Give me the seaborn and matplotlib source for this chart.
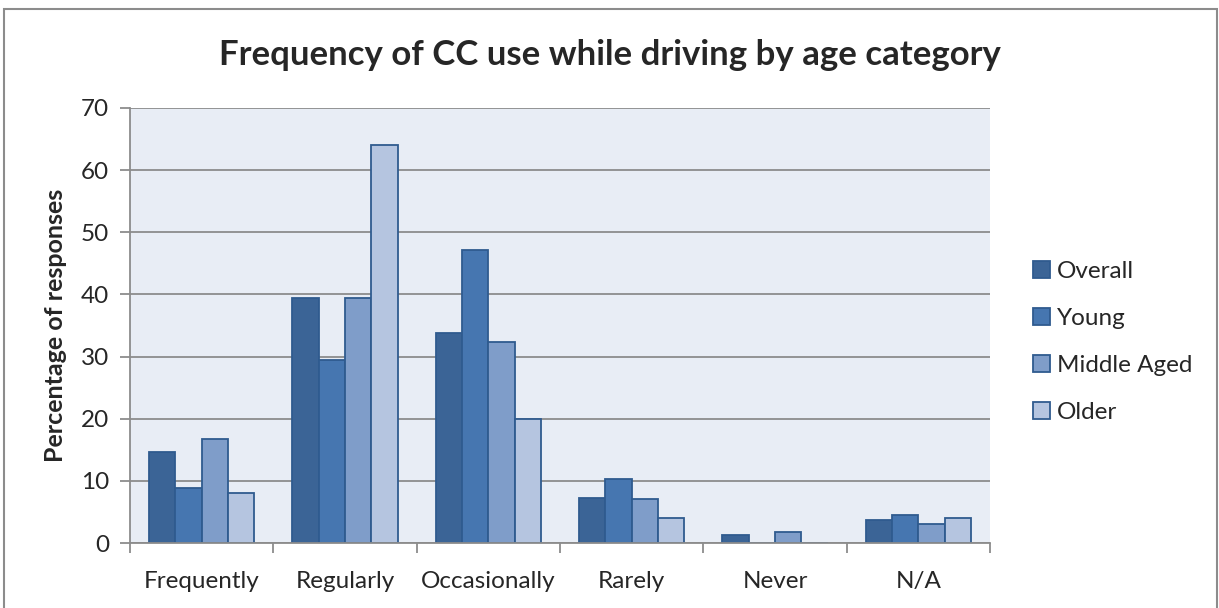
import pandas as pd
import numpy as np
import matplotlib
matplotlib.use('Agg')
import matplotlib.pyplot as plt
from matplotlib.patches import Rectangle
import seaborn as sns

# Chart data
categories = ['Frequently', 'Regularly', 'Occasionally', 'Rarely', 'Never', 'N/A']
groups = ['Overall', 'Young', 'Middle Aged', 'Older']
overall = [14.6, 39.5, 33.8, 7.3, 1.35, 3.7]
young = [8.9, 29.5, 47.1, 10.35, 0, 4.5]
middle_aged = [16.8, 39.5, 32.4, 7.1, 1.7, 3.0]
older = [8.1, 64.0, 20.0, 4.1, 0, 4.1]

colors = ['#3B6496', '#4676B0', '#7F9DC9', '#B5C5E0']

# Long-form table for seaborn
df = pd.DataFrame({
    'category': categories * 4,
    'group': [g for g in groups for _ in categories],
    'value': overall + young + middle_aged + older,
})

sns.set_style('white')
plt.rcParams['font.family'] = ['Lato', 'DejaVu Sans']

fig = plt.figure(figsize=(12.19, 6.08), dpi=100)
ax = fig.add_axes([130 / 1219, 1 - 543 / 608, 860 / 1219, 435 / 608])

sns.barplot(data=df, x='category', y='value', hue='group', order=categories,
            hue_order=groups, palette=colors, width=0.735, gap=0,
            edgecolor='#2F5B8F', linewidth=1.3, saturation=1, ax=ax)

ax.set_facecolor('#E8EDF5')
ax.set_xlim(-0.5, 5.5)
ax.set_ylim(0, 70)
ax.set_yticks(range(0, 71, 10))
ax.yaxis.grid(True, color='#8C8C8C', linewidth=1.3)
ax.set_axisbelow(True)

# x ticks between categories
ax.set_xticks(range(len(categories)))
ax.set_xticklabels(categories, fontsize=17.5)
ax.set_xticks(np.arange(-0.5, 6, 1), minor=True)
ax.tick_params(axis='x', which='major', length=0, pad=20)
ax.tick_params(axis='x', which='minor', length=7, width=1.3, color='#8C8C8C', direction='out')
ax.tick_params(axis='y', length=7, width=1.3, color='#8C8C8C', direction='out', labelsize=17.5, pad=8)
ax.tick_params(axis='y', left=True)
ax.tick_params(axis='x', which='minor', bottom=True)

for side in ['top', 'right']:
    ax.spines[side].set_visible(False)
for side in ['left', 'bottom']:
    ax.spines[side].set_color('#8C8C8C')
    ax.spines[side].set_linewidth(1.3)

ax.set_xlabel('')
ax.set_ylabel('Percentage of responses', fontsize=18, fontweight='bold', labelpad=10)
fig.text(610 / 1219, 1 - 55 / 608, 'Frequency of CC use while driving by age category',
         ha='center', va='center', fontsize=25, fontweight='bold')

leg = ax.legend(loc='center left', bbox_to_anchor=(1.024, 0.462), frameon=False,
                fontsize=17.5, labelspacing=1.08, handlelength=0.7, handleheight=0.7,
                handletextpad=0.3)

# outer chart frame
fig.patches.append(Rectangle((4 / 1219, -0.05), 1213 / 1219, 1.05 - 9 / 608,
                             transform=fig.transFigure, fill=False,
                             edgecolor='#8C8C8C', linewidth=1.5))

fig.savefig('out.png', dpi=100)
